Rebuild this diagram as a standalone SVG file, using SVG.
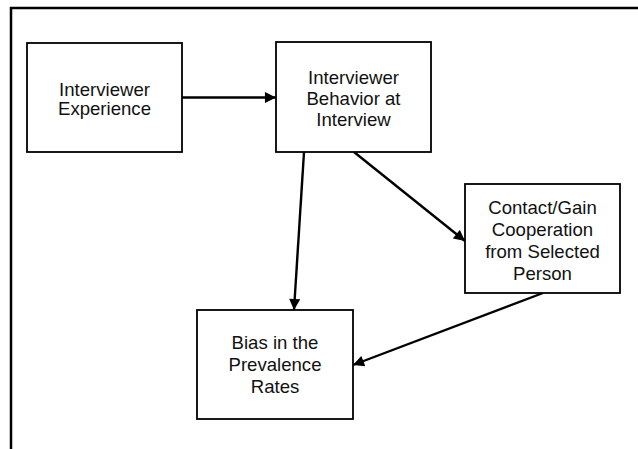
<svg xmlns="http://www.w3.org/2000/svg" width="638" height="449" viewBox="0 0 638 449">
  <style>
    .frame { stroke: #000; stroke-width: 2.5; fill: none; }
    .box { fill: #fff; stroke: #000; stroke-width: 1.8; }
    .label { font-family: "Liberation Sans", Arial, sans-serif; font-size: 18.6px; fill: #111; text-anchor: middle; }
    .edge { stroke: #000; stroke-width: 2.4; fill: none; marker-end: url(#arrow); }
  </style>
  <defs>
    <marker id="arrow" viewBox="0 0 10 10" refX="10" refY="5" markerWidth="5.2" markerHeight="4.6" markerUnits="strokeWidth" orient="auto">
      <path d="M0,0 L10,5 L0,10 z" fill="#000"/>
    </marker>
  </defs>

  <!-- page frame -->
  <path class="frame" d="M11,449 V8 H638"/>

  <g id="connectors">
    <line class="edge" x1="182" y1="97.5" x2="276" y2="97.5"/>
    <line class="edge" x1="304" y1="152" x2="294" y2="310"/>
    <line class="edge" x1="354" y1="152" x2="465" y2="241"/>
    <line class="edge" x1="543" y1="293" x2="353" y2="365"/>
  </g>

  <g id="experience">
    <rect class="box" x="27" y="43" width="155" height="109"/>
    <text class="label" x="104.5" y="96">Interviewer</text>
    <text class="label" x="104.5" y="115">Experience</text>
  </g>

  <g id="behavior">
    <rect class="box" x="276" y="42" width="155" height="110"/>
    <text class="label" x="353.5" y="84">Interviewer</text>
    <text class="label" x="353.5" y="105">Behavior at</text>
    <text class="label" x="353.5" y="126">Interview</text>
  </g>

  <g id="cooperation">
    <rect class="box" x="465" y="184" width="155" height="109"/>
    <text class="label" x="542.5" y="214">Contact/Gain</text>
    <text class="label" x="542.5" y="236">Cooperation</text>
    <text class="label" x="542.5" y="258">from Selected</text>
    <text class="label" x="542.5" y="280">Person</text>
  </g>

  <g id="bias">
    <rect class="box" x="197" y="310" width="156" height="109"/>
    <text class="label" x="275" y="349">Bias in the</text>
    <text class="label" x="275" y="371">Prevalence</text>
    <text class="label" x="275" y="393">Rates</text>
  </g>
</svg>
